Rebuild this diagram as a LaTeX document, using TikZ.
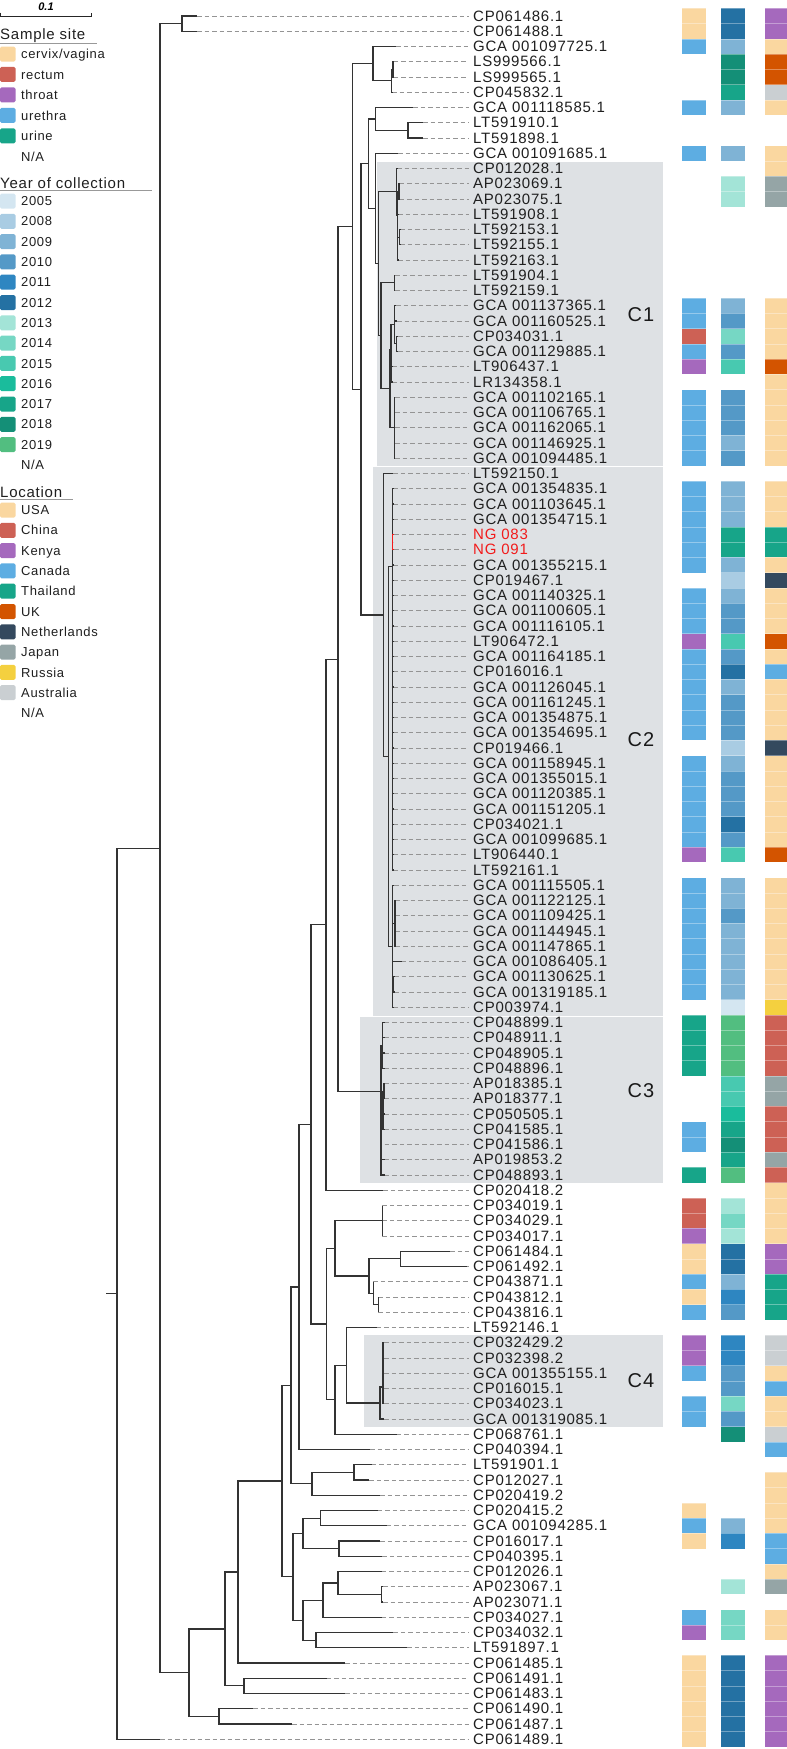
\documentclass[tikz,border=0pt]{standalone}
\usepackage{fontspec}
\setmainfont{Liberation Sans}
\newfontfamily\labfont[LetterSpace=5]{Liberation Sans}
\usetikzlibrary{calc}

% sample site
\definecolor{cerv}{HTML}{FAD7A0}
\definecolor{rect}{HTML}{CD6155}
\definecolor{thr}{HTML}{A569BD}
\definecolor{ure}{HTML}{5DADE2}
\definecolor{uri}{HTML}{17A589}
% year
\definecolor{y05}{HTML}{D4E6F1}
\definecolor{y08}{HTML}{A9CCE3}
\definecolor{y09}{HTML}{7FB3D5}
\definecolor{y10}{HTML}{5499C7}
\definecolor{y11}{HTML}{2E86C1}
\definecolor{y12}{HTML}{2471A3}
\definecolor{y13}{HTML}{A3E4D7}
\definecolor{y14}{HTML}{76D7C4}
\definecolor{y15}{HTML}{48C9B0}
\definecolor{y16}{HTML}{1ABC9C}
\definecolor{y17}{HTML}{17A589}
\definecolor{y18}{HTML}{148F77}
\definecolor{y19}{HTML}{52BE80}
% location
\definecolor{usa}{HTML}{FAD7A0}
\definecolor{chn}{HTML}{CD6155}
\definecolor{ken}{HTML}{A569BD}
\definecolor{can}{HTML}{5DADE2}
\definecolor{tha}{HTML}{17A589}
\definecolor{ukc}{HTML}{D35400}
\definecolor{ned}{HTML}{34495E}
\definecolor{jpn}{HTML}{95A5A6}
\definecolor{rus}{HTML}{F4D03F}
\definecolor{aus}{HTML}{CACFD2}
\definecolor{cladebg}{RGB}{222,225,228}
\definecolor{ngred}{HTML}{F21B1B}

% internal node of the tree: x given, y halfway between first and last child
\newcommand\tnode[4]{%
  \path (#3) -- (#4) coordinate[pos=.5] (m#1);
  \coordinate (#1) at (#2,0 |- m#1);}

\begin{document}
\begin{tikzpicture}[
    x=1pt, y=-1pt,
    branch/.style={draw=black!80, line width=1.2pt},
    leafdash/.style={draw=black!42, line width=0.8pt, dash pattern=on 4.5pt off 3pt, shorten >=2pt},
    leaflab/.style={anchor=west, inner xsep=2.5pt, inner ysep=0pt, font=\labfont\fontsize{15}{17}\selectfont},
    cladelab/.style={inner sep=0pt, font=\labfont\fontsize{20}{22}\selectfont, text=black!90},
    legtitle/.style={anchor=west, inner sep=0pt, font=\labfont\fontsize{15}{17}\selectfont, text=black!88},
    legtext/.style={anchor=west, inner sep=0pt, text height=9.3pt, text depth=0pt, font=\labfont\fontsize{13}{15}\selectfont, text=black!88},
    legrule/.style={draw=black!40, line width=0.9pt},
    legsw/.style={rounded corners=1.5pt},
    cellsep/.style={draw=white, draw opacity=.35, line width=.5pt}
]
\useasboundingbox (0,0) rectangle (787,1749);

% clade shading
\fill[cladebg] (376.5,162) rectangle (663,466);
\fill[cladebg] (373.3,467) rectangle (663,1015.5);
\fill[cladebg] (360,1016.5) rectangle (663,1183);
\fill[cladebg] (364.3,1335.3) rectangle (663,1426.6);
\node[cladelab] (labC1) at (641,315) {C1};
\node[cladelab] (labC2) at (641,740) {C2};
\node[cladelab] (labC3) at (641,1091) {C3};
\node[cladelab] (labC4) at (641,1381) {C4};

% scale bar
\node[inner sep=0pt, font=\fontsize{11}{12}\selectfont\bfseries\itshape] (scl) at (46,7) {0.1};
\draw[line width=0.9pt, black!85] (0.5,12.5) |- (91.5,16) -- (91.5,12.5);

% legend
\node[legtitle] (tsite) at (0,36) {Sample site};
\draw[legrule] (0,43) -- (97,43);
\foreach \c/\t [count=\k from 0] in {cerv/{cervix/vagina}, rect/rectum, thr/throat, ure/urethra, uri/urine}{
  \pgfmathsetmacro\yy{54+\k*20.45}
  \fill[\c, legsw] (0,\yy-7.5) rectangle (15.5,\yy+7.5);
  \node[legtext] (site\k) at (21,\yy) {\t};
}
\node[legtext] (siteNA) at (21,156.5) {N/A};

\node[legtitle] (tyear) at (0,183) {Year of collection};
\draw[legrule] (0,190) -- (152,190);
\foreach \c/\t [count=\k from 0] in {y05/2005, y08/2008, y09/2009, y10/2010, y11/2011, y12/2012, y13/2013, y14/2014, y15/2015, y16/2016, y17/2017, y18/2018, y19/2019}{
  \pgfmathsetmacro\yy{201+\k*20.3}
  \fill[\c, legsw] (0,\yy-7.5) rectangle (15.5,\yy+7.5);
  \node[legtext] (year\k) at (21,\yy) {\t};
}
\node[legtext] (yearNA) at (21,465) {N/A};

\node[legtitle] (tloc) at (0,492) {Location};
\draw[legrule] (0,499) -- (73,499);
\foreach \c/\t [count=\k from 0] in {usa/USA, chn/China, ken/Kenya, can/Canada, tha/Thailand, ukc/UK, ned/Netherlands, jpn/Japan, rus/Russia, aus/Australia}{
  \pgfmathsetmacro\yy{510+\k*20.3}
  \fill[\c, legsw] (0,\yy-7.5) rectangle (15.5,\yy+7.5);
  \node[legtext] (loc\k) at (21,\yy) {\t};
}
\node[legtext] (locNA) at (21,713) {N/A};

% leaves
\foreach \i/\ex/\lab in {
 1/197/CP061486.1, 2/197/CP061488.1, 3/396/GCA 001097725.1, 4/393.5/LS999566.1, 5/393.5/LS999565.1,
 6/392/CP045832.1, 7/413/GCA 001118585.1, 8/423/LT591910.1, 9/423/LT591898.1, 10/398/GCA 001091685.1,
 11/397/CP012028.1, 12/399.5/AP023069.1, 13/399.5/AP023075.1, 14/398/LT591908.1, 15/400/LT592153.1,
 16/400/LT592155.1, 17/398/LT592163.1, 18/395/LT591904.1, 19/395/LT592159.1, 20/396/GCA 001137365.1,
 21/397/GCA 001160525.1, 22/398/CP034031.1, 23/398/GCA 001129885.1, 24/392/LT906437.1, 25/392/LR134358.1,
 26/395/GCA 001102165.1, 27/395/GCA 001106765.1, 28/395/GCA 001162065.1, 29/395/GCA 001146925.1, 30/395/GCA 001094485.1,
 31/393/LT592150.1, 32/393.5/GCA 001354835.1, 33/393.5/GCA 001103645.1, 34/393.5/GCA 001354715.1, 35/394/NG 083,
 36/394/NG 091, 37/393.5/GCA 001355215.1, 38/393.5/CP019467.1, 39/393.5/GCA 001140325.1, 40/393.5/GCA 001100605.1,
 41/393.5/GCA 001116105.1, 42/393.5/LT906472.1, 43/393.5/GCA 001164185.1, 44/393.5/CP016016.1, 45/393.5/GCA 001126045.1,
 46/393.5/GCA 001161245.1, 47/393.5/GCA 001354875.1, 48/393.5/GCA 001354695.1, 49/393.5/CP019466.1, 50/393.5/GCA 001158945.1,
 51/393.5/GCA 001355015.1, 52/393.5/GCA 001120385.1, 53/393.5/GCA 001151205.1, 54/393.5/CP034021.1, 55/393.5/GCA 001099685.1,
 56/393.5/LT906440.1, 57/393.5/LT592161.1, 58/394/GCA 001115505.1, 59/395.5/GCA 001122125.1, 60/395.5/GCA 001109425.1,
 61/395.5/GCA 001144945.1, 62/395.5/GCA 001147865.1, 63/401.7/GCA 001086405.1, 64/394/GCA 001130625.1, 65/394/GCA 001319185.1,
 66/393/CP003974.1, 67/384.5/CP048899.1, 68/384.5/CP048911.1, 69/384.5/CP048905.1, 70/384.5/CP048896.1,
 71/384.5/AP018385.1, 72/384.5/AP018377.1, 73/384.5/CP050505.1, 74/384.5/CP041585.1, 75/384.5/CP041586.1,
 76/384.5/AP019853.2, 77/384.5/CP048893.1, 78/383.3/CP020418.2, 79/382.3/CP034019.1, 80/382.3/CP034029.1,
 81/382.3/CP034017.1, 82/450/CP061484.1, 83/466.7/CP061492.1, 84/373.3/CP043871.1, 85/378.3/CP043812.1,
 86/378.3/CP043816.1, 87/376.7/LT592146.1, 88/384/CP032429.2, 89/384/CP032398.2, 90/384/GCA 001355155.1,
 91/384/CP016015.1, 92/384/CP034023.1, 93/384/GCA 001319085.1, 94/396.7/CP068761.1, 95/370/CP040394.1,
 96/371.7/LT591901.1, 97/369.3/CP012027.1, 98/380/CP020419.2, 99/377.7/CP020415.2, 100/386.7/GCA 001094285.1,
 101/380/CP016017.1, 102/382.3/CP040395.1, 103/381.7/CP012026.1, 104/383/AP023067.1, 105/383/AP023071.1,
 106/381.7/CP034027.1, 107/393.3/CP034032.1, 108/407.3/LT591897.1, 109/345/CP061485.1, 110/326.7/CP061491.1,
 111/345/CP061483.1, 112/253/CP061490.1, 113/292/CP061487.1, 114/160/CP061489.1}{
  \pgfmathsetmacro\yy{16+(\i-1)*15.25}
  \def\lc{black!88}\ifnum\i>34 \ifnum\i<37 \def\lc{ngred}\fi\fi
  \coordinate (l\i) at (\ex,\yy);
  \node[leaflab, text=\lc] (t\i) at (470.5,\yy) {\lab};
  \draw[leafdash] (l\i) -- (t\i.west);
}

% internal nodes
\tnode{P1}{182}{l1}{l2}
\tnode{n45}{393}{l4}{l5}
\tnode{n46}{391.7}{n45}{l6}
\tnode{n36}{373}{l3}{n46}
\tnode{n89}{408}{l8}{l9}
\tnode{nO}{375.7}{l7}{n89}
% C1
\tnode{n1213}{399}{l12}{l13}
\tnode{n1516}{399.5}{l15}{l16}
\coordinate (c1ax) at (397.5,215);
\coordinate (c1a) at (396.7,191.7);
\tnode{n1819}{394.3}{l18}{l19}
\tnode{n2223}{396.7}{l22}{l23}
\tnode{c1f}{394.3}{l20}{n2223}
\tnode{n2425}{391.5}{l24}{l25}
\tnode{c1d}{391}{c1f}{n2425}
\tnode{c1e}{394.3}{l26}{l30}
\tnode{c1c}{390}{c1d}{c1e}
\tnode{c1b}{381}{n1819}{c1c}
\tnode{c1r}{378.3}{c1a}{c1b}
\tnode{nQ}{375.7}{l10}{c1r}
\tnode{n3}{368.3}{nO}{nQ}
% C2
\tnode{n3536}{392.5}{l35}{l36}
\coordinate (c2x) at (392.7,566.7);
\tnode{n5962}{395}{l59}{l62}
\tnode{n6465}{393.5}{l64}{l65}
\tnode{c2y}{392.7}{l58}{l66}
\tnode{c2b}{388.3}{c2x}{c2y}
\tnode{c2r}{383.3}{l31}{c2b}
\tnode{n2}{361}{n3}{c2r}
\tnode{nN}{352.3}{n36}{n2}
% C3
\tnode{c3a}{382.5}{l67}{l70}
\tnode{n7172}{384}{l71}{l72}
\tnode{c3b}{383}{n7172}{l75}
\coordinate (c3r) at (381,1091.7);
\tnode{M}{338}{nN}{c3r}
\tnode{K}{326}{M}{l78}
% lower part
\tnode{n7981}{382.3}{l79}{l81}
\tnode{n8283}{400.7}{l82}{l83}
\tnode{n8586}{378.3}{l85}{l86}
\tnode{n8486}{373.3}{l84}{n8586}
\tnode{n369}{369}{n8283}{n8486}
\tnode{q335a}{335}{n7981}{n369}
\coordinate (c4a) at (383,1387);
\tnode{c4r}{380}{c4a}{l93}
\tnode{n87}{346.7}{l87}{c4r}
\tnode{q335b}{335}{n87}{l94}
\tnode{q327}{326.7}{q335a}{q335b}
\tnode{L}{311}{K}{q327}
\tnode{H}{299}{L}{l95}
\tnode{n9697}{354}{l96}{l97}
\tnode{n96}{312}{n9697}{l98}
\tnode{F}{291}{H}{n96}
\tnode{n99}{320.7}{l99}{l100}
\tnode{n101}{339}{l101}{l102}
\tnode{G1}{303}{n99}{n101}
\tnode{n104}{381.7}{l104}{l105}
\tnode{n103a}{338}{l103}{n104}
\tnode{n103}{323}{n103a}{l106}
\tnode{n107}{316}{l107}{l108}
\tnode{G2}{303}{n103}{n107}
\tnode{G}{293}{G1}{G2}
\tnode{E}{282}{F}{G}
\tnode{D}{238}{E}{l109}
\tnode{n110}{244}{l110}{l111}
\tnode{C}{225}{D}{n110}
\tnode{n112}{219}{l112}{l113}
\tnode{B}{189}{C}{n112}
\tnode{A}{160}{P1}{B}
\tnode{R0}{117}{A}{l114}
\coordinate (root) at (106,0 |- R0);

% branches
\draw[branch] (root) -- (R0);
\foreach \p/\c in {R0/A, R0/l114, A/P1, A/B, P1/l1, P1/l2, B/C, B/n112, n112/l112, n112/l113,
  C/D, C/n110, n110/l110, n110/l111, D/E, D/l109, E/F, E/G, F/H, F/n96, n96/n9697, n96/l98,
  n9697/l96, n9697/l97, G/G1, G/G2, G1/n99, G1/n101, n99/l99, n99/l100, n101/l101, n101/l102,
  G2/n103, G2/n107, n103/n103a, n103/l106, n103a/l103, n103a/n104, n104/l104, n104/l105,
  n107/l107, n107/l108, H/L, H/l95, L/K, L/q327, K/M, K/l78, M/nN, M/c3r,
  q327/q335a, q327/q335b, q335a/n7981, q335a/n369, n7981/l79, n7981/l80, n7981/l81,
  n369/n8283, n369/n8486, n8283/l82, n8283/l83, n8486/l84, n8486/n8586, n8586/l85, n8586/l86,
  q335b/n87, q335b/l94, n87/l87, n87/c4r, c4r/c4a, c4r/l93,
  nN/n36, nN/n2, n36/l3, n36/n46, n46/n45, n46/l6, n45/l4, n45/l5,
  n2/n3, n2/c2r, n3/nO, n3/nQ, nO/l7, nO/n89, n89/l8, n89/l9, nQ/l10, nQ/c1r,
  c1r/c1a, c1r/c1b, c1a/l11, c1a/c1ax, c1ax/n1213, c1ax/l14, c1ax/n1516, c1ax/l17, n1213/l12, n1213/l13,
  n1516/l15, n1516/l16, c1b/n1819, c1b/c1c, n1819/l18, n1819/l19, c1c/c1d, c1c/c1e,
  c1d/c1f, c1d/n2425, c1f/l20, c1f/l21, c1f/n2223, n2223/l22, n2223/l23, n2425/l24, n2425/l25,
  c2r/l31, c2r/c2b, c2b/c2x, c2b/c2y, c2x/l32, c2x/l33, c2x/l34, c2x/n3536,
  c2y/l58, c2y/n5962, c2y/l63, c2y/n6465, c2y/l66, n6465/l64, n6465/l65,
  c3r/c3a, c3r/c3b, c3r/l76, c3r/l77, c3b/n7172, c3b/l73, c3b/l74, n7172/l71, n7172/l72}
  \draw[branch] (\p) |- (\c);
\foreach \k in {37,...,57} \draw[branch] (c2x) |- (l\k);
\foreach \k in {59,...,62} \draw[branch] (n5962) |- (l\k);
\foreach \k in {26,...,30} \draw[branch] (c1e) |- (l\k);
\foreach \k in {67,...,70} \draw[branch] (c3a) |- (l\k);
\foreach \k in {88,...,92} \draw[branch] (c4a) |- (l\k);
\draw[branch, draw=ngred] (n3536) |- (l35) (n3536) |- (l36);

% metadata columns: sample site, year, location
\foreach \xa/\xb/\runs in {
  681.5/705.5/{1/2/cerv, 3/3/ure, 7/7/ure, 10/10/ure, 20/21/ure, 22/22/rect, 23/23/ure, 24/24/thr, 26/30/ure,
    32/37/ure, 39/41/ure, 42/42/thr, 43/48/ure, 50/55/ure, 56/56/thr, 58/65/ure, 67/70/uri, 74/75/ure,
    77/77/uri, 79/80/rect, 81/81/thr, 82/83/cerv, 84/84/ure, 85/85/cerv, 86/86/ure, 88/89/thr, 90/90/ure,
    92/93/ure, 99/99/cerv, 100/100/ure, 101/101/cerv, 106/106/ure, 107/107/thr, 109/114/cerv},
  721/745/{1/2/y12, 3/3/y09, 4/5/y18, 6/6/y17, 7/7/y09, 10/10/y09, 12/13/y13, 20/20/y09, 21/21/y10,
    22/22/y14, 23/23/y10, 24/24/y15, 26/28/y10, 29/29/y09, 30/30/y10, 32/34/y09, 35/36/y17, 37/37/y09,
    38/38/y08, 39/39/y09, 40/41/y10, 42/42/y15, 43/43/y10, 44/44/y12, 45/45/y09, 46/48/y10, 49/49/y08,
    50/50/y09, 51/53/y10, 54/54/y12, 55/55/y10, 56/56/y15, 58/59/y09, 60/60/y10, 61/65/y09, 66/66/y05,
    67/70/y19, 71/72/y15, 73/73/y16, 74/74/y17, 75/75/y18, 76/76/y17, 77/77/y19, 79/79/y13, 80/80/y14,
    81/81/y13, 82/83/y12, 84/84/y09, 85/85/y11, 86/86/y10, 88/89/y11, 90/91/y10, 92/92/y14, 93/93/y10,
    94/94/y18, 100/100/y09, 101/101/y11, 104/104/y13, 106/107/y14, 109/114/y12},
  765/787/{1/2/ken, 3/3/usa, 4/5/ukc, 6/6/aus, 7/7/usa, 10/11/usa, 12/13/jpn, 20/23/usa, 24/24/ukc,
    25/30/usa, 32/34/usa, 35/36/tha, 37/37/usa, 38/38/ned, 39/41/usa, 42/42/ukc, 43/43/usa, 44/44/can,
    45/48/usa, 49/49/ned, 50/55/usa, 56/56/ukc, 58/65/usa, 66/66/rus, 67/70/chn, 71/72/jpn, 73/75/chn,
    76/76/jpn, 77/77/chn, 78/81/usa, 82/83/ken, 84/86/tha, 88/89/aus, 90/90/usa, 91/91/can, 92/93/usa,
    94/94/aus, 95/95/can, 97/100/usa, 101/102/can, 103/103/usa, 104/104/jpn, 106/107/usa, 109/114/ken}}{
  \foreach \a/\b/\c in \runs{
    \foreach \r in {\a,...,\b}{
      \pgfmathsetmacro\yy{16+(\r-1)*15.25}
      \fill[\c] (\xa,\yy-7.63) rectangle (\xb,\yy+7.63);
      \draw[cellsep] (\xa,\yy-7.63) -- (\xb,\yy-7.63);
    }
  }
}
\end{tikzpicture}
\end{document}
